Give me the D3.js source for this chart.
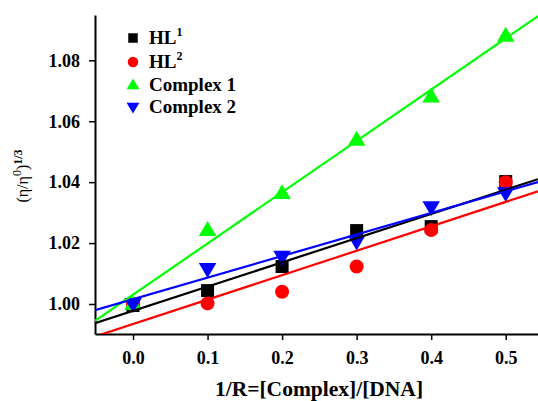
<!DOCTYPE html>
<html>
<head>
<meta charset="utf-8">
<script src="https://cdn.jsdelivr.net/npm/d3@7"></script>
<style>
  body { margin: 0; background: #fff; }
  text { font-family: "Liberation Serif", "Times New Roman", serif; font-weight: bold; fill: #000; }
</style>
</head>
<body>
<svg width="538" height="401"></svg>
<script>
// data
var ratio = [0.0, 0.1, 0.2, 0.3, 0.4, 0.5];
var hl1 = [0.9995, 1.0044, 1.0123, 1.0241, 1.0254, 1.0402];
var hl2 = [1.0000, 1.0002, 1.0040, 1.0123, 1.0243, 1.0400];
var complex1 = [1.0000, 1.0243, 1.0364, 1.0539, 1.0681, 1.0881];
var complex2 = [1.0000, 1.0115, 1.0155, 1.0205, 1.0318, 1.0364];
var xTicks = [0.0, 0.1, 0.2, 0.3, 0.4, 0.5];
var yTicks = [1.00, 1.02, 1.04, 1.06, 1.08];

var series = [
  { name: "HL", sup: "1", values: hl1, color: "#000000", shape: "square" },
  { name: "HL", sup: "2", values: hl2, color: "#ff0000", shape: "circle" },
  { name: "Complex 1", sup: "", values: complex1, color: "#00ff00", shape: "up" },
  { name: "Complex 2", sup: "", values: complex2, color: "#0000ff", shape: "down" }
];

(function () {
  var svg = d3.select("svg"),
    left = 95, right = 538, top = 15, bottom = 334;

  var x = d3.scaleLinear().domain([-0.051, 0.5433]).range([left, right]);
  var y = d3.scaleLinear().domain([0.99015, 1.09488]).range([bottom, top]);

  svg.append("defs").append("clipPath").attr("id", "plot")
    .append("rect").attr("x", left).attr("y", top)
    .attr("width", right - left).attr("height", bottom - top);

  // axes
  var xAxis = d3.axisBottom(x).tickValues(xTicks).tickSize(6).tickSizeOuter(0)
    .tickFormat(d3.format(".1f"));
  var gx = svg.append("g").attr("transform", "translate(0," + bottom + ")").call(xAxis);
  gx.select(".domain").attr("stroke-width", 2);
  gx.selectAll(".tick line").attr("stroke-width", 1.5);
  gx.selectAll(".tick text").attr("font-size", 18).attr("y", 17).attr("dy", "0.71em")
    .style("font-family", "Liberation Serif, serif").style("font-weight", "bold");

  var yAxis = d3.axisLeft(y).tickValues(yTicks).tickSize(6).tickSizeOuter(0)
    .tickFormat(d3.format(".2f"));
  var gy = svg.append("g").attr("transform", "translate(" + left + ",0)").call(yAxis);
  gy.select(".domain").attr("stroke-width", 2);
  gy.selectAll(".tick line").attr("stroke-width", 1.5);
  gy.selectAll(".tick text").attr("font-size", 18).attr("x", -15)
    .style("font-family", "Liberation Serif, serif").style("font-weight", "bold");

  // markers
  var plot = svg.append("g").attr("clip-path", "url(#plot)");

  function drawMarker(g, shape, cx, cy, s, color) {
    if (shape === "square") {
      g.append("rect").attr("x", cx - s / 2).attr("y", cy - s / 2)
        .attr("width", s).attr("height", s).attr("fill", color);
    } else if (shape === "circle") {
      g.append("circle").attr("cx", cx).attr("cy", cy).attr("r", s / 2 + 0.5).attr("fill", color);
    } else {
      var w = s * 1.35, h = s * 1.15, d = shape === "up" ? 1 : -1;
      var pts = [[cx, cy - d * h * 0.6], [cx - w / 2, cy + d * h * 0.4], [cx + w / 2, cy + d * h * 0.4]];
      g.append("polygon").attr("points", pts.map(function (p) { return p.join(","); }).join(" "))
        .attr("fill", color);
    }
  }

  series.forEach(function (s) {
    s.values.forEach(function (v, i) {
      drawMarker(plot, s.shape, x(ratio[i]), y(v), 13, s.color);
    });
  });

  // least-squares lines through each series
  series.forEach(function (s) {
    var mx = d3.mean(ratio), my = d3.mean(s.values);
    var sxy = d3.sum(ratio, function (r, i) { return (r - mx) * (s.values[i] - my); });
    var sxx = d3.sum(ratio, function (r) { return (r - mx) * (r - mx); });
    var k = sxy / sxx, b = my - k * mx;
    var x0 = x.domain()[0], x1 = x.domain()[1];
    plot.append("line")
      .attr("x1", x(x0)).attr("y1", y(b + k * x0))
      .attr("x2", x(x1)).attr("y2", y(b + k * x1))
      .attr("stroke", s.color).attr("stroke-width", 2.2);
  });

  // legend
  var legend = svg.append("g");
  var ly = [38, 62, 85, 107];
  series.forEach(function (s, i) {
    drawMarker(legend, s.shape, 133, ly[i], 9.5, s.color);
    var t = legend.append("text").attr("x", 149).attr("y", ly[i] + 6).attr("font-size", 19);
    t.append("tspan").text(s.name);
    if (s.sup) t.append("tspan").attr("dy", -8).attr("font-size", 12).text(s.sup);
  });

  // axis titles
  svg.append("text").attr("x", 319).attr("y", 396).attr("text-anchor", "middle")
    .attr("font-size", 21.5).text("1/R=[Complex]/[DNA]");

  var yl = svg.append("text").attr("transform", "translate(28,176) rotate(-90)")
    .attr("text-anchor", "middle").attr("font-size", 16);
  yl.append("tspan").style("font-weight", "normal").text("(\u03b7/\u03b7");
  yl.append("tspan").style("font-weight", "normal").attr("dy", -7).attr("font-size", 12).text("0");
  yl.append("tspan").style("font-weight", "normal").attr("dy", 7).text(")");
  yl.append("tspan").attr("dy", -6).attr("font-size", 12).text("1/3");
})();
</script>
</body>
</html>
